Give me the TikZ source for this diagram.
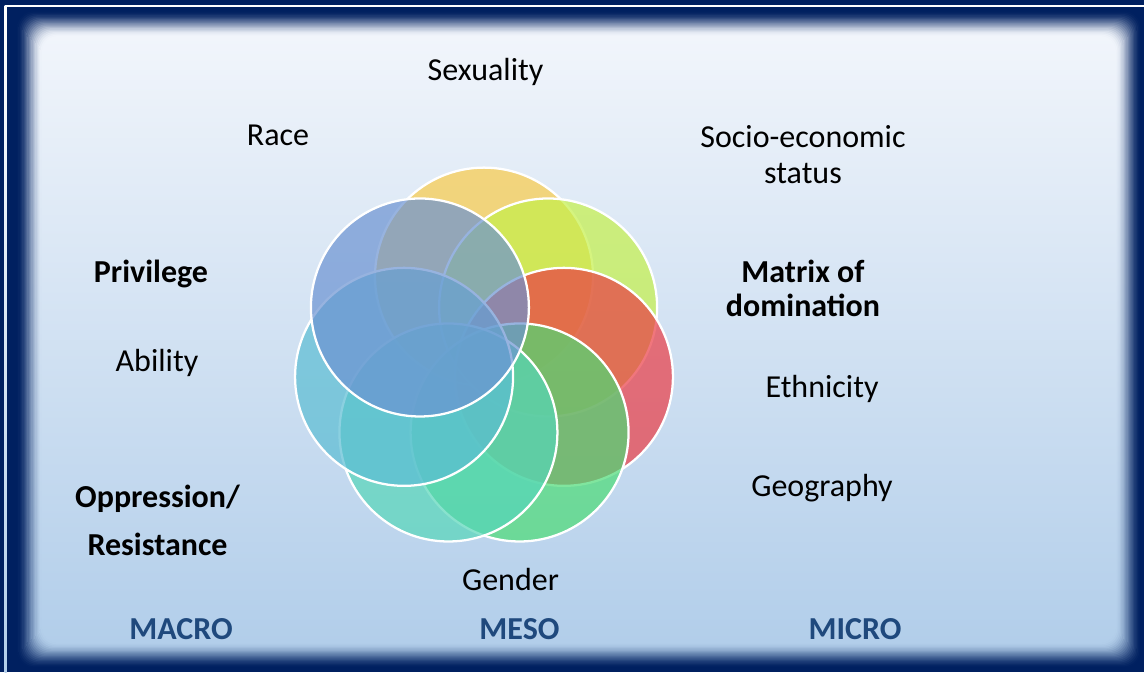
\documentclass[tikz,border=0pt]{standalone}
\usepackage{fontspec}
\setmainfont{Carlito}
\usepackage{xcolor}
\definecolor{frameblue}{RGB}{0,32,96}
\definecolor{skytop}{RGB}{241,245,251}
\definecolor{skybot}{RGB}{178,206,234}
\definecolor{levelblue}{RGB}{31,73,125}
\definecolor{cYel}{RGB}{249,203,73}
\definecolor{cLgr}{RGB}{196,240,73}
\definecolor{cRed}{RGB}{234,60,69}
\definecolor{cGrn}{RGB}{75,219,117}
\definecolor{cTea}{RGB}{86,214,185}
\definecolor{cLbl}{RGB}{91,189,211}
\definecolor{cBlu}{RGB}{108,147,210}
\tikzset{
    word/.style={font=\fontsize{24}{27}\selectfont, anchor=base, align=center, inner sep=0pt},
    keyword/.style={word, font=\fontsize{24}{27}\selectfont\bfseries},
    levelword/.style={keyword, text=levelblue},
    petal/.style={draw=white, line width=1.7pt, fill opacity=0.7},
}

\begin{document}
\begin{tikzpicture}[x=0.75pt, y=-0.75pt]% one unit = one pixel, y downwards

\useasboundingbox (0,0) rectangle (1144,672);

% frame
\fill[frameblue] (0,0) rectangle (1144,672);
\shade[top color=white, bottom color=skybot] (4.5,5) rectangle (6.5,672);
\fill[white] (4.5,4.5) rectangle (1144,6.5);
% soft inner panel: nested layers from navy to the sky gradient
\foreach \k in {0,...,20}{
    \pgfmathsetmacro\t{\k/20}
    \pgfmathsetmacro\p{100*\t*\t*(3-2*\t)}
    \shade[top color=skytop!\p!frameblue, bottom color=skybot!\p!frameblue,
           rounded corners=12pt]
        ({16+1.3*\k},{10+1.3*\k}) rectangle ({1142-1.3*\k},{669-1.3*\k});
}

% seven circles, drawn clockwise from the top
\foreach \a/\c in {-90/cYel, -38.57/cLgr, 12.86/cRed, 64.29/cGrn,
                   115.71/cTea, 167.14/cLbl, 218.57/cBlu}
    \filldraw[petal, fill=\c, shift={(484,358.6)}] (\a:82) circle (109);

\node[word]    (sexuality)  at (485.5,80) {Sexuality};
\node[word]    (race)       at (278,145)  {Race};
\node[word]    (socio)      at (803,183)  {Socio-economic\\status};
\node[keyword] (privilege)  at (151,282)  {Privilege};
\node[keyword] (matrix)     at (803,316)  {Matrix of\\[-2pt]domination};
\node[word]    (ability)    at (157,371)  {Ability};
\node[word]    (ethnicity)  at (822,397)  {Ethnicity};
\node[keyword] (oppression) at (157.5,555) {Oppression/\\[9pt]Resistance};
\node[word]    (geography)  at (822,496)  {Geography};
\node[word]    (gender)     at (510.5,590) {Gender};

\node[levelword] (macro) at (181,639)   {MACRO};
\node[levelword] (meso)  at (519.5,639) {MESO};
\node[levelword] (micro) at (855,639)   {MICRO};
\end{tikzpicture}
\end{document}
